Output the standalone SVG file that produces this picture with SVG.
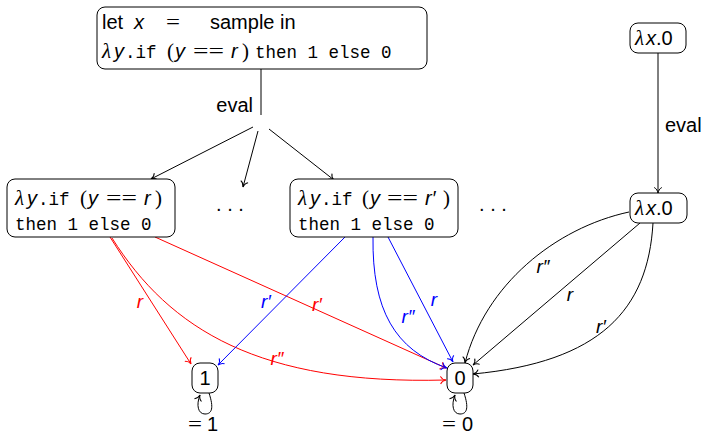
<svg xmlns="http://www.w3.org/2000/svg" width="702" height="436" viewBox="0 0 702 436">
<style>
.box{fill:#fff;stroke:#000;stroke-width:1}
.sans{font-family:"Liberation Sans",Arial,sans-serif;font-size:20px;fill:#000}
.it{font-family:"Liberation Sans",Arial,sans-serif;font-style:italic;font-size:20px}
.lam{font-family:"Liberation Serif","Times New Roman",serif;font-style:italic;font-size:21px}
.ser{font-family:"Liberation Serif","Times New Roman",serif;font-size:21px}
.mono{font-family:"Liberation Mono","Courier New",monospace;font-size:17.5px}
.lbl{font-family:"Liberation Sans",Arial,sans-serif;font-style:italic;font-size:19px;text-anchor:middle}
.k{fill:none;stroke:#000;stroke-width:1}
.red{fill:none;stroke:#f00;stroke-width:1}
.blue{fill:none;stroke:#00f;stroke-width:1}
</style>
<defs>
<marker id="ak" viewBox="-7 -5 8 10" markerWidth="8" markerHeight="10" refX="0" refY="0" orient="auto" markerUnits="userSpaceOnUse" overflow="visible">
<path d="M-5.5,-3.8 C-4.5,-1.6 -1.8,-0.3 0,0 C-1.8,0.3 -4.5,1.6 -5.5,3.8" fill="none" stroke="#000" stroke-width="1"/>
</marker>
<marker id="ar" viewBox="-7 -5 8 10" markerWidth="8" markerHeight="10" refX="0" refY="0" orient="auto" markerUnits="userSpaceOnUse" overflow="visible">
<path d="M-5.5,-3.8 C-4.5,-1.6 -1.8,-0.3 0,0 C-1.8,0.3 -4.5,1.6 -5.5,3.8" fill="none" stroke="#f00" stroke-width="1"/>
</marker>
<marker id="ab" viewBox="-7 -5 8 10" markerWidth="8" markerHeight="10" refX="0" refY="0" orient="auto" markerUnits="userSpaceOnUse" overflow="visible">
<path d="M-5.5,-3.8 C-4.5,-1.6 -1.8,-0.3 0,0 C-1.8,0.3 -4.5,1.6 -5.5,3.8" fill="none" stroke="#00f" stroke-width="1"/>
</marker>
</defs>

<g id="connectors">
<path class="k" d="M261,69 L261,115"/>
<text class="sans" x="253" y="112" text-anchor="end" font-size="19">eval</text>
<path class="k" d="M253,127 L151,179" marker-end="url(#ak)"/>
<path class="k" d="M258,131 L243,187" marker-end="url(#ak)"/>
<path class="k" d="M269,129 L334,180" marker-end="url(#ak)"/>
<path class="k" d="M658,53 L658,193" marker-end="url(#ak)"/>
<text class="sans" x="665" y="132" font-size="18">eval</text>

<path class="red" d="M110,237 L191,364" marker-end="url(#ar)"/>
<text class="lbl" x="140" y="308" fill="#f00">r</text>
<path class="red" d="M112,238 C170,330 260,385 446,380" marker-end="url(#ar)"/>
<text class="lbl" x="277" y="365" fill="#f00">r″</text>
<path class="red" d="M155,237 L446,368" marker-end="url(#ar)"/>
<text class="lbl" x="317" y="311" fill="#f00">r′</text>

<path class="blue" d="M345,237 L218,365" marker-end="url(#ab)"/>
<text class="lbl" x="266" y="308" fill="#00f">r′</text>
<path class="blue" d="M373,237 C372,310 395,350 447,368" marker-end="url(#ab)"/>
<text class="lbl" x="408" y="323" fill="#00f">r″</text>
<path class="blue" d="M388,237 L453,362" marker-end="url(#ab)"/>
<text class="lbl" x="434" y="306" fill="#00f">r</text>

<path class="k" d="M629,212 C555,228 485,285 465,363" marker-end="url(#ak)"/>
<text class="lbl" x="543" y="273" fill="#000">r″</text>
<path class="k" d="M640,223 L473,365" marker-end="url(#ak)"/>
<text class="lbl" x="570" y="301" fill="#000">r</text>
<path class="k" d="M653,223 C648,310 600,362 473,374" marker-end="url(#ak)"/>
<text class="lbl" x="601" y="333" fill="#000">r′</text>

<path class="k" d="M209,393 C214,408 212,414 205,414 C198,414 196,405 200,395" marker-end="url(#ak)"/>
<path class="k" d="M464,393 C469,408 467,414 460,414 C453,414 451,405 455,395" marker-end="url(#ak)"/>
</g>

<g id="n-top">
<rect class="box" x="97" y="7" width="330" height="62" rx="8"/>
<text class="sans" x="102" y="29">let</text>
<text class="it" x="134" y="29">x</text>
<text class="ser" x="166" y="29" textLength="14" lengthAdjust="spacingAndGlyphs">=</text>
<text class="sans" x="210" y="29">sample in</text>
<text class="lam" x="102" y="58">λ</text>
<text class="it" x="114" y="58">y</text>
<text class="mono" x="125" y="58">.if</text>
<text class="ser" x="167" y="58">(</text>
<text class="it" x="175" y="58">y</text>
<text class="ser" x="193" y="58" textLength="31" lengthAdjust="spacingAndGlyphs">==</text>
<text class="it" x="231" y="58">r</text>
<text class="ser" x="242" y="58">)</text>
<text class="mono" x="255" y="58">then 1 else 0</text>
</g>

<g id="n-left">
<rect class="box" x="7" y="179" width="168" height="58" rx="8"/>
<text class="lam" x="15" y="205">λ</text>
<text class="it" x="27" y="205">y</text>
<text class="mono" x="38" y="205">.if</text>
<text class="ser" x="80" y="205">(</text>
<text class="it" x="88" y="205">y</text>
<text class="ser" x="106" y="205" textLength="31" lengthAdjust="spacingAndGlyphs">==</text>
<text class="it" x="144" y="205">r</text>
<text class="ser" x="155" y="205">)</text>
<text class="mono" x="15" y="230">then 1 else 0</text>
</g>

<text class="sans" x="230" y="211" text-anchor="middle">. . .</text>

<g id="n-mid">
<rect class="box" x="290" y="179" width="168" height="58" rx="8"/>
<text class="lam" x="298" y="205">λ</text>
<text class="it" x="310" y="205">y</text>
<text class="mono" x="321" y="205">.if</text>
<text class="ser" x="362" y="205">(</text>
<text class="it" x="370" y="205">y</text>
<text class="ser" x="387" y="205" textLength="31" lengthAdjust="spacingAndGlyphs">==</text>
<text class="it" x="425" y="205">r′</text>
<text class="ser" x="443" y="205">)</text>
<text class="mono" x="298" y="230">then 1 else 0</text>
</g>

<text class="sans" x="493" y="211" text-anchor="middle">. . .</text>

<g id="n-lx0-top">
<rect class="box" x="630" y="23" width="56" height="30" rx="8"/>
<text class="lam" x="635" y="45">λ</text>
<text class="it" x="646" y="45">x</text>
<text class="sans" x="656" y="45">.0</text>
</g>

<g id="n-lx0">
<rect class="box" x="630" y="193" width="57" height="30" rx="8"/>
<text class="lam" x="635" y="215">λ</text>
<text class="it" x="646" y="215">x</text>
<text class="sans" x="656" y="215">.0</text>
</g>

<g id="n-one">
<rect class="box" x="192" y="363" width="26" height="30" rx="8"/>
<text class="sans" x="205" y="385" text-anchor="middle">1</text>
<text class="ser" x="188" y="431" textLength="14" lengthAdjust="spacingAndGlyphs">=</text>
<text class="sans" x="207" y="431">1</text>
</g>

<g id="n-zero">
<rect class="box" x="447" y="363" width="26" height="30" rx="8"/>
<text class="sans" x="460" y="385" text-anchor="middle">0</text>
<text class="ser" x="442" y="431" textLength="14" lengthAdjust="spacingAndGlyphs">=</text>
<text class="sans" x="462" y="431">0</text>
</g>
</svg>
